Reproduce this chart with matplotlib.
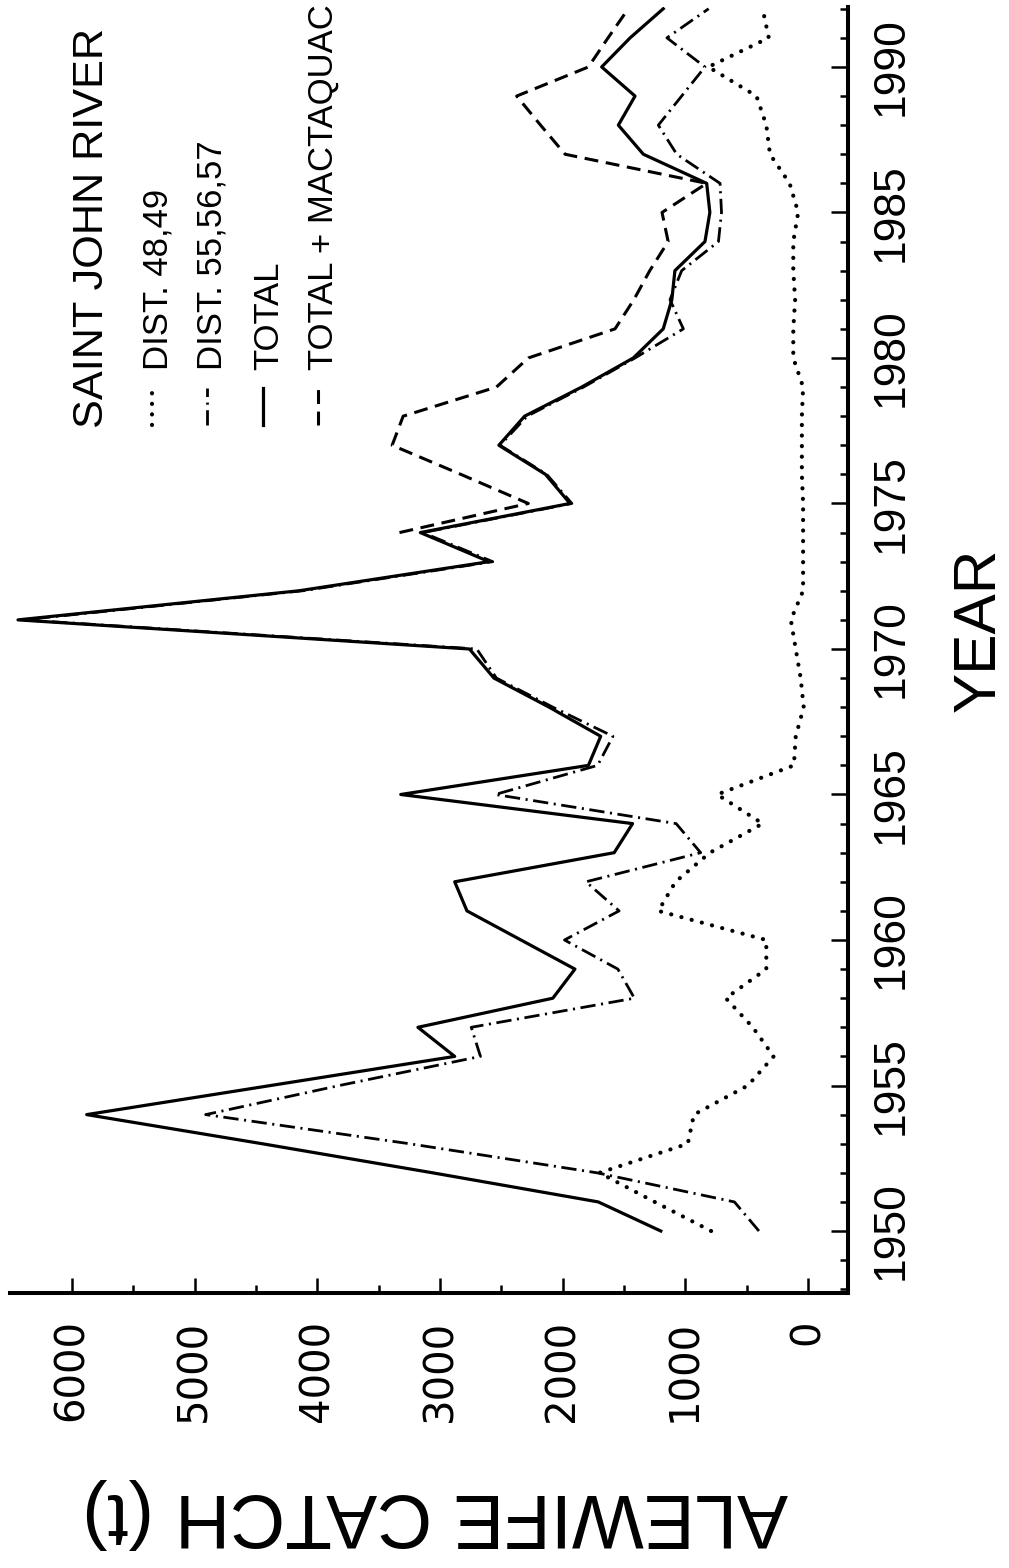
import numpy as np
import matplotlib
matplotlib.use("Agg")
import matplotlib.pyplot as plt
from matplotlib import font_manager
from matplotlib.lines import Line2D

# ---------------- data ----------------
years = list(range(1950, 1993))
dist_48_49 = [790, 1250, 1700, 980, 930, 490, 280, 450, 670, 340,
              340, 1220, 1080, 800, 370, 740, 115, 100, 35, 60,
              100, 140, 40, 40, 40, 40, 50, 50, 50, 40,
              120, 120, 105, 120, 120, 80, 150, 310, 340, 420,
              812, 320, 370]
dist_55_57 = [400, 600, 1720, 3250, 4910, 3820, 2670, 2745, 1415, 1550,
              1985, 1540, 1810, 875, 1075, 2550, 1715, 1590, 2080, 2540,
              2700, 6400, 4120, 2570, 3140, 1925, 2130, 2510, 2290, 1830,
              1410, 1016, 1125, 1030, 730, 705, 717, 1070, 1220, 1030,
              840, 1150, 810]
total = [1200, 1710, 3060, 4450, 5880, 4380, 2880, 3180, 2080, 1900,
         2340, 2780, 2880, 1580, 1430, 3320, 1790, 1690, 2110, 2560,
         2760, 6440, 4150, 2600, 3160, 1940, 2140, 2520, 2310, 1845,
         1424, 1180, 1110, 1085, 840, 800, 826, 1342, 1546, 1410,
         1682, 1450, 1180]
mact_years = list(range(1974, 1993))
total_mactaquac = [3330, 2280, 2830, 3390, 3300, 2540, 2280, 1573, 1420, 1290,
                   1140, 1190, 826, 1980, 2180, 2375, 1790, 1630, 1465]

catch_ticks = [0, 1000, 2000, 3000, 4000, 5000, 6000]
year_ticks = [1950, 1955, 1960, 1965, 1970, 1975, 1980, 1985, 1990]
title = "SAINT JOHN RIVER"
legend_labels = ["DIST. 48,49", "DIST. 55,56,57", "TOTAL", "TOTAL + MACTAQUAC"]
xlabel = "YEAR"
ylabel = "ALEWIFE CATCH (t)"

# ---------------- fonts ----------------
names = {f.name for f in font_manager.fontManager.ttflist}
if "Liberation Sans Narrow" in names:
    NARROW, NS = "Liberation Sans Narrow", 1.0
else:
    NARROW, NS = "Liberation Sans", 0.82
REG = "Liberation Sans" if "Liberation Sans" in names else "DejaVu Sans"

plt.rcParams["lines.scale_dashes"] = False

W, H = 1009, 1568
fig = plt.figure(figsize=(W / 100, H / 100), dpi=100)
ax = fig.add_axes([10 / W, (H - 1293) / H, 838 / W, 1286 / H])

styles = {
    "dotted": dict(color="black", lw=3.0, dashes=(0.1, 7.5), dash_capstyle="round"),
    "dashdot": dict(color="black", lw=2.0, dashes=(11, 4, 1.5, 4)),
    "solid": dict(color="black", lw=2.3, linestyle="-"),
    "dashed": dict(color="black", lw=2.2, dashes=(10, 5.5)),
}

ax.plot(dist_48_49, years, **styles["dotted"])
ax.plot(dist_55_57, years, **styles["dashdot"])
ax.plot(total, years, **styles["solid"])
ax.plot(total_mactaquac, mact_years, **styles["dashed"])

ax.set_xlim(6505, -326)
ax.set_ylim(1947.87, 1992.06)

for s in ["left", "top"]:
    ax.spines[s].set_visible(False)
for s in ["right", "bottom"]:
    ax.spines[s].set_linewidth(2.9)

ax.yaxis.tick_right()
ax.set_yticks(year_ticks, labels=[str(y) for y in year_ticks], rotation=90,
              va="center", ha="left", fontsize=32, family=REG)
ax.set_yticks(np.arange(1948, 1993), minor=True)
ax.set_xticks(catch_ticks, labels=[str(c) for c in catch_ticks], rotation=90,
              fontsize=29, family="DejaVu Sans")
ax.set_xticks(np.arange(500, 6000, 1000), minor=True)

ax.tick_params(axis="both", which="both", direction="in", width=1.8)
ax.tick_params(axis="y", which="major", length=12, pad=16)
ax.tick_params(axis="y", which="minor", length=5.8)
ax.tick_params(axis="x", which="major", length=10.8, pad=19)
ax.tick_params(axis="x", which="minor", length=5.8)


def fx(x):
    return x / W


def fy(y):
    return 1 - y / H


# title and legend (rotated)
fig.text(fx(103), fy(428), title, rotation=90, rotation_mode="anchor",
         ha="left", va="baseline", fontsize=38 * NS, family=NARROW)

entry_style = ["dotted", "dashdot", "solid", "dashed"]
baselines = [167, 222, 278, 333]
for lab, st, bx in zip(legend_labels, entry_style, baselines):
    fig.text(fx(bx), fy(370), lab, rotation=90, rotation_mode="anchor",
             ha="left", va="baseline", fontsize=30.5 * NS, family=NARROW)
    cx = bx - 15
    fig.add_artist(Line2D([fx(cx), fx(cx)], [fy(425), fy(388)],
                          transform=fig.transFigure, **styles[st]))

fig.text(fx(1007), fy(630), xlabel, rotation=90, rotation_mode="anchor",
         ha="center", va="bottom", fontsize=53 * NS, family=NARROW)
fig.text(fx(435), fy(1494), ylabel, rotation=180, rotation_mode="anchor",
         ha="center", va="baseline", fontsize=67 * NS, family=NARROW)

fig.savefig("out.png", dpi=100)
